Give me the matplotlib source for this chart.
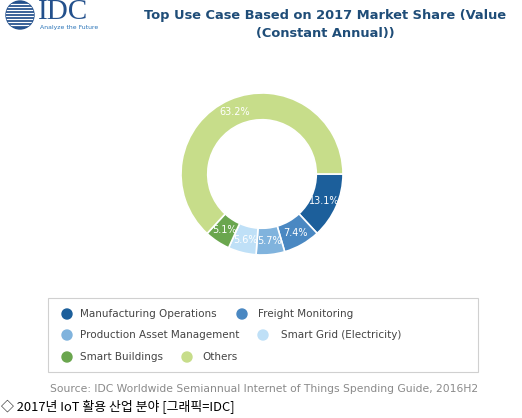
import matplotlib.pyplot as plt
from matplotlib.patches import Circle, Rectangle

# 데이터
categories = ['Manufacturing Operations', 'Freight Monitoring',
              'Production Asset Management', 'Smart Grid (Electricity)',
              'Smart Buildings', 'Others']
shares = [13.1, 7.4, 5.7, 5.6, 5.1, 63.2]
colors = ['#1c5f9b', '#4a88c2', '#80b3dd', '#bfe0f7', '#6aa64e', '#c7dd8a']

W, H = 522, 418
fig = plt.figure(figsize=(W / 100, H / 100), dpi=100)
fig.patch.set_facecolor('white')

# fondo en coordenadas de pixel
bg = fig.add_axes([0, 0, 1, 1])
bg.set_xlim(0, W)
bg.set_ylim(H, 0)
bg.axis('off')

# logo IDC
globe = Circle((20, 15), 14, color='#23508c', zorder=2)
bg.add_patch(globe)
for yy in range(4, 28, 3):
    ln, = bg.plot([2, 38], [yy, yy], color='white', lw=0.9, zorder=3)
    ln.set_clip_path(globe)
bg.text(38, 12, 'IDC', family='Liberation Serif', fontsize=21, color='#23508c',
        va='center', ha='left')
bg.text(40, 27, 'Analyze the Future', fontsize=4.4, color='#2a74b8',
        va='center', ha='left')

# titulo
title_col = '#1f4d78'
bg.text(325, 15, 'Top Use Case Based on 2017 Market Share (Value', fontsize=9.4,
        fontweight='bold', color=title_col, ha='center', va='center')
bg.text(325, 33, '(Constant Annual))', fontsize=9.4,
        fontweight='bold', color=title_col, ha='center', va='center')

# leyenda
bg.add_patch(Rectangle((48, 298), 430, 74, fill=False, ec='#d0d0d0', lw=0.8))
legend_pos = [(67, 80, 314), (242, 258, 314),
              (67, 80, 335), (263, 281, 335),
              (67, 80, 357), (187, 202, 357)]
for (mx, tx, ty), name, c in zip(legend_pos, categories, colors):
    bg.add_patch(Circle((mx, ty), 5, color=c))
    bg.text(tx, ty, name, fontsize=7.5, color='#444444', ha='left', va='center')

bg.text(264, 389, 'Source: IDC Worldwide Semiannual Internet of Things Spending Guide, 2016H2',
        fontsize=7.75, color='#8a8a8a', ha='center', va='center')
bg.text(1, 407, '◇ 2017년 IoT 활용 산업 분야 [그래픽=IDC]',
        family=['Noto Sans CJK KR', 'DejaVu Sans'], fontsize=9.3, color='black',
        ha='left', va='center')

# dona
cx, cy, r = 262, 174, 81
ax = fig.add_axes([(cx - r) / W, 1 - (cy + r) / H, 2 * r / W, 2 * r / H])
ring = 0.33
labels = [f'{v:.1f}%' for v in shares]
wedges, texts = ax.pie(shares, colors=colors, startangle=0, counterclock=False,
                       radius=1, labels=labels, labeldistance=1 - ring / 2,
                       wedgeprops=dict(width=ring, edgecolor='white', linewidth=1.2),
                       textprops=dict(color='white', fontsize=7))
for t in texts:
    t.set_ha('center')
    t.set_va('center')
ax.set_xlim(-1, 1)
ax.set_ylim(-1, 1)
ax.set_aspect('equal')
ax.axis('off')

plt.savefig('out.png', dpi=100)
